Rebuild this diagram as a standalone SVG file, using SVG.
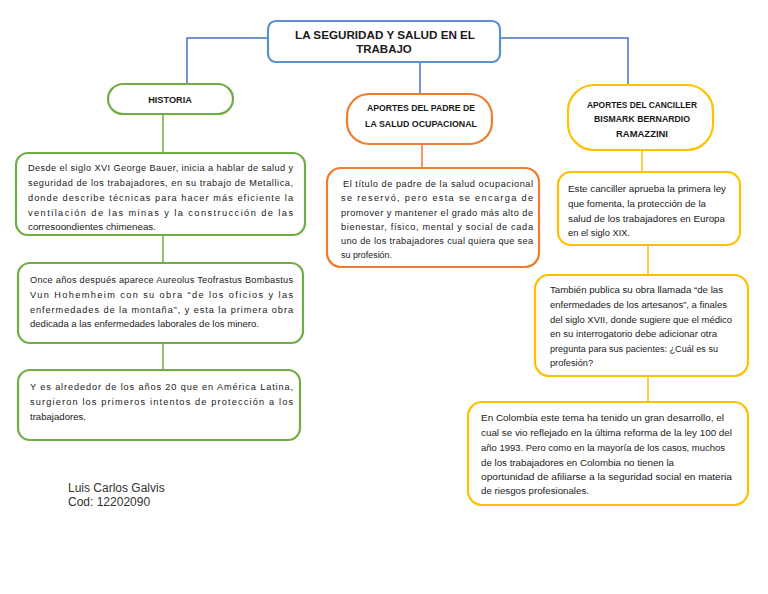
<svg xmlns="http://www.w3.org/2000/svg" width="768" height="594" viewBox="0 0 768 594">
<style>
.t{font-family:"Liberation Sans",Arial,sans-serif;font-size:9.2px;fill:#1a1a1a}
.h{font-family:"Liberation Sans",Arial,sans-serif;font-size:9.2px;font-weight:bold;fill:#1a1a1a;text-anchor:middle}
.ti{font-family:"Liberation Sans",Arial,sans-serif;font-size:11.5px;font-weight:bold;fill:#1a1a1a;text-anchor:middle}
.nm{font-family:"Liberation Sans",Arial,sans-serif;font-size:12px;fill:#333}
.bl{fill:#fff;stroke:#5B8FD0;stroke-width:2.2}
.gr{fill:#fff;stroke:#70AD47;stroke-width:2.2}
.or{fill:#fff;stroke:#ED7D31;stroke-width:2.2}
.ye{fill:#fff;stroke:#FFC000;stroke-width:2.2}
.cb{fill:none;stroke:#4472C4;stroke-width:1.5}
.cg{fill:none;stroke:#70AD47;stroke-width:1.5}
.co{fill:none;stroke:#ED7D31;stroke-width:1.5}
.cy{fill:none;stroke:#FFC000;stroke-width:1.5}
</style>
<rect width="768" height="594" fill="#fff"/>
<g id="connectors">
<path class="cb" d="M268,38 H187 V83"/>
<path class="cb" d="M500,38 H628 V85"/>
<path class="cb" d="M420,62 V94"/>
<path class="cg" d="M163,115 V153 M163,235 V263 M163,343 V370"/>
<path class="co" d="M422,145 V168"/>
<path class="cy" d="M642,150 V172 M648,245 V275 M648,376 V402"/>
</g>
<g id="title">
<rect class="bl" x="268" y="21" width="232" height="41" rx="8"/>
<text class="ti" x="385" y="39" textLength="180" lengthAdjust="spacingAndGlyphs">LA SEGURIDAD Y SALUD EN EL</text>
<text class="ti" x="384" y="53">TRABAJO</text>
</g>
<g id="historia">
<rect class="gr" x="108" y="84" width="125" height="30" rx="15"/>
<text class="h" x="170" y="103">HISTORIA</text>
</g>
<g id="aportes-padre">
<rect class="or" x="347" y="94" width="145" height="50" rx="22"/>
<text class="h" x="421" y="111" textLength="108" lengthAdjust="spacingAndGlyphs">APORTES DEL PADRE DE</text>
<text class="h" x="421" y="127" textLength="112" lengthAdjust="spacingAndGlyphs">LA SALUD OCUPACIONAL</text>
</g>
<g id="aportes-canciller">
<rect class="ye" x="568" y="85" width="145" height="65" rx="26"/>
<text class="h" x="642" y="108" textLength="110" lengthAdjust="spacingAndGlyphs">APORTES DEL CANCILLER</text>
<text class="h" x="642" y="122" textLength="96" lengthAdjust="spacingAndGlyphs">BISMARK BERNARDIO</text>
<text class="h" x="642" y="137" textLength="52" lengthAdjust="spacingAndGlyphs">RAMAZZINI</text>
</g>
<g id="historia-1">
<rect class="gr" x="16" y="153" width="289" height="82" rx="12"/>
<text class="t" x="28" y="171" textLength="265" lengthAdjust="spacing">Desde el siglo XVI George Bauer, inicia a hablar de salud y</text>
<text class="t" x="28" y="186" textLength="265" lengthAdjust="spacing">seguridad de los trabajadores, en su trabajo de Metallica,</text>
<text class="t" x="28" y="201" textLength="265" lengthAdjust="spacing">donde describe técnicas para hacer más eficiente la</text>
<text class="t" x="28" y="216" textLength="265" lengthAdjust="spacing">ventilación de las minas y la construcción de las</text>
<text class="t" x="28" y="230" textLength="128" lengthAdjust="spacingAndGlyphs">corresoondientes chimeneas.</text>
</g>
<g id="historia-2">
<rect class="gr" x="18" y="263" width="285" height="80" rx="12"/>
<text class="t" x="30" y="283" textLength="263" lengthAdjust="spacing">Once años después aparece Aureolus Teofrastus Bombastus</text>
<text class="t" x="30" y="298" textLength="263" lengthAdjust="spacing">Vun Hohemheim con su obra “de los oficios y las</text>
<text class="t" x="30" y="313" textLength="263" lengthAdjust="spacing">enfermedades de la montaña”, y esta la primera obra</text>
<text class="t" x="30" y="327" textLength="229" lengthAdjust="spacingAndGlyphs">dedicada a las enfermedades laborales de los minero.</text>
</g>
<g id="historia-3">
<rect class="gr" x="18" y="370" width="282" height="70" rx="12"/>
<text class="t" x="30" y="390" textLength="263" lengthAdjust="spacing">Y es alrededor de los años 20 que en América Latina,</text>
<text class="t" x="30" y="405" textLength="263" lengthAdjust="spacing">surgieron los primeros intentos de protección a los</text>
<text class="t" x="30" y="420" textLength="56" lengthAdjust="spacingAndGlyphs">trabajadores.</text>
</g>
<g id="padre-1">
<rect class="or" x="327" y="168" width="212" height="99" rx="14"/>
<text class="t" x="343" y="187" textLength="190" lengthAdjust="spacing">El título de padre de la salud ocupacional</text>
<text class="t" x="341" y="201" textLength="192" lengthAdjust="spacing">se reservó, pero esta se encarga de</text>
<text class="t" x="341" y="216" textLength="192" lengthAdjust="spacing">promover y mantener el grado más alto de</text>
<text class="t" x="341" y="230" textLength="192" lengthAdjust="spacing">bienestar, físico, mental y social de cada</text>
<text class="t" x="341" y="244" textLength="192" lengthAdjust="spacing">uno de los trabajadores cual quiera que sea</text>
<text class="t" x="341" y="258" textLength="51" lengthAdjust="spacingAndGlyphs">su profesión.</text>
</g>
<g id="canciller-1">
<rect class="ye" x="558" y="172" width="182" height="73" rx="13"/>
<text class="t" x="568" y="192" textLength="158" lengthAdjust="spacingAndGlyphs">Este canciller aprueba la primera ley</text>
<text class="t" x="568" y="207" textLength="138" lengthAdjust="spacingAndGlyphs">que fomenta, la protección de la</text>
<text class="t" x="568" y="222" textLength="157" lengthAdjust="spacingAndGlyphs">salud de los trabajadores en Europa</text>
<text class="t" x="568" y="236" textLength="62" lengthAdjust="spacingAndGlyphs">en el siglo XIX.</text>
</g>
<g id="canciller-2">
<rect class="ye" x="535" y="275" width="213" height="101" rx="14"/>
<text class="t" x="550" y="293" textLength="173" lengthAdjust="spacingAndGlyphs">También publica su obra llamada “de las</text>
<text class="t" x="550" y="308" textLength="177" lengthAdjust="spacingAndGlyphs">enfermedades de los artesanos”, a finales</text>
<text class="t" x="550" y="323" textLength="182" lengthAdjust="spacingAndGlyphs">del siglo XVII, donde sugiere que el médico</text>
<text class="t" x="550" y="337" textLength="167" lengthAdjust="spacingAndGlyphs">en su interrogatorio debe adicionar otra</text>
<text class="t" x="550" y="352" textLength="168" lengthAdjust="spacingAndGlyphs">pregunta para sus pacientes: ¿Cuál es su</text>
<text class="t" x="550" y="366" textLength="43" lengthAdjust="spacingAndGlyphs">profesión?</text>
</g>
<g id="canciller-3">
<rect class="ye" x="468" y="402" width="280" height="103" rx="14"/>
<text class="t" x="481" y="421" textLength="243" lengthAdjust="spacingAndGlyphs">En Colombia este tema ha tenido un gran desarrollo, el</text>
<text class="t" x="481" y="436" textLength="251" lengthAdjust="spacingAndGlyphs">cual se vio reflejado en la última reforma de la ley 100 del</text>
<text class="t" x="481" y="451" textLength="244" lengthAdjust="spacingAndGlyphs">año 1993. Pero como en la mayoría de los casos, muchos</text>
<text class="t" x="481" y="466" textLength="193" lengthAdjust="spacingAndGlyphs">de los trabajadores en Colombia no tienen la</text>
<text class="t" x="481" y="480" textLength="251" lengthAdjust="spacingAndGlyphs">oportunidad de afiliarse a la seguridad social en materia</text>
<text class="t" x="481" y="494" textLength="108" lengthAdjust="spacingAndGlyphs">de riesgos profesionales.</text>
</g>
<g id="author">
<text class="nm" x="68" y="492">Luis Carlos Galvis</text>
<text class="nm" x="68" y="506">Cod: 12202090</text>
</g>
</svg>
